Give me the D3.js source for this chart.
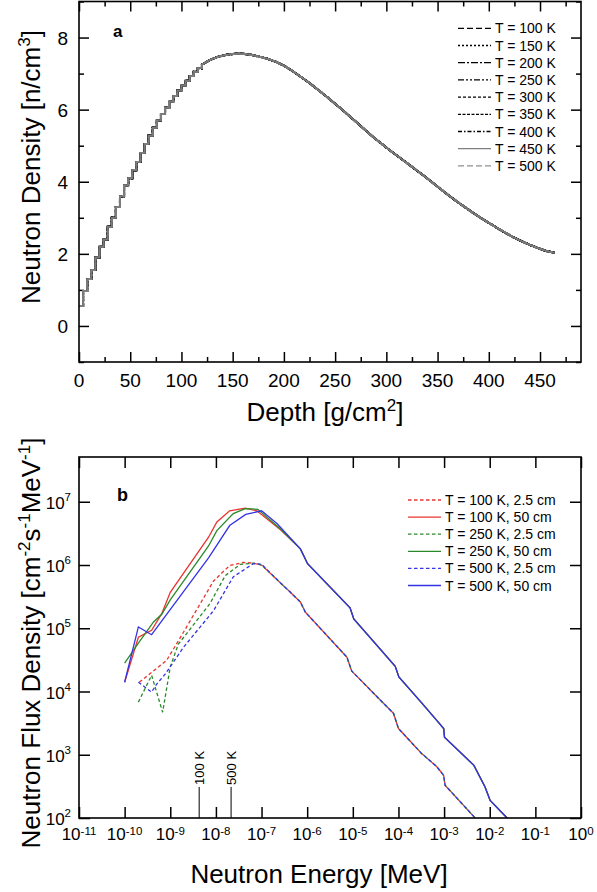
<!DOCTYPE html>
<html><head><meta charset="utf-8">
<script src="https://cdn.jsdelivr.net/npm/d3@7"></script>
<style>
html,body{margin:0;padding:0;background:#fff;}
svg text{font-family:"Liberation Sans",Arial,sans-serif;fill:#000;}
</style></head>
<body><svg id="c" width="597" height="892"></svg>
<script>
// ---------- Panel a data ----------
const depth = [0,4,8,12,16,20,24,28,32,36,40,44,48,52,56,60,64,68,72,76,80,84,88,92,96,100,104,108,112,116,120,128,136,144,152,160,168,176,184,192,200,208,216,224,232,240,248,256,264,272,280,288,296,304,312,320,328,336,344,352,360,368,376,384,392,400,408,416,424,432,440,448,456,464];
const density = [0.55,0.97,1.30,1.55,1.90,2.20,2.40,2.75,3.00,3.30,3.60,3.90,4.10,4.32,4.55,4.80,5.05,5.28,5.50,5.70,5.88,6.05,6.22,6.38,6.53,6.67,6.80,6.93,7.05,7.15,7.25,7.38,7.47,7.52,7.55,7.55,7.52,7.47,7.41,7.33,7.22,7.08,6.92,6.76,6.58,6.40,6.21,6.02,5.82,5.62,5.42,5.22,5.04,4.86,4.69,4.52,4.35,4.18,4.00,3.82,3.64,3.47,3.31,3.15,3.00,2.86,2.72,2.59,2.46,2.35,2.25,2.16,2.08,2.03];
const tempLabels = ["T = 100 K","T = 150 K","T = 200 K","T = 250 K","T = 300 K","T = 350 K","T = 400 K","T = 450 K","T = 500 K"];
const depthTicks = [0,50,100,150,200,250,300,350,400,450];
const densityTicks = [0,2,4,6,8];

// ---------- Panel b data ----------
const eRed50 = [1e-10,2.0e-10,3.9e-10,6.5e-10,1e-9,6.9e-9,1.05e-8,2.0e-8,4.4e-8,7.9e-8,2.6e-7];
const fRed50 = [1.4e4,7.2e4,9.3e4,1.7e5,3.7e5,2.75e6,4.8e6,7.2e6,7.9e6,7.2e6,3.6e6];
const eGreen50 = [1e-10,2.0e-10,4.3e-10,6.5e-10,1e-9,6.9e-9,1.05e-8,2.4e-8,4.4e-8,8.3e-8,2.6e-7];
const fGreen50 = [2.8e4,5.8e4,1.26e5,1.66e5,2.8e5,2.0e6,3.5e6,6.5e6,7.8e6,7.6e6,3.7e6];
const eBlue50 = [1e-10,2.0e-10,3.9e-10,6.9e-9,2.0e-8,4.5e-8,1e-7,2.2e-7];
const fBlue50 = [1.4e4,1.05e5,7.9e4,1.3e6,4.2e6,6.3e6,7.2e6,4.5e6];
const eSolidTail = [7.1e-7,1.02e-6,8.7e-6,1.05e-5,8.5e-5,1.02e-4,3.3e-4,6.9e-4,9.8e-4,1.02e-3,4.5e-3,7.9e-3,1.02e-2,2.4e-2,3.2e-2];
const fSolidTail = [1.8e6,1.05e6,2.1e5,1.4e5,2.5e4,1.7e4,6.5e3,3.5e3,2.6e3,1.9e3,680,310,190,100,71];

const eRed25 = [2.1e-10,8.3e-10,1.6e-9,8.9e-9,2.0e-8,4.0e-8,6.6e-8,1e-7];
const fRed25 = [1.4e4,3.1e4,6.8e4,5.6e5,9.8e5,1.1e6,1.07e6,1.0e6];
const eGreen25 = [2.0e-10,3.9e-10,6.8e-10,1e-9,1.5e-9,7.4e-9,1.6e-8,3.4e-8,6.6e-8,1e-7];
const fGreen25 = [6.8e3,1.8e4,4.7e3,2.45e4,5.6e4,2.45e5,6.8e5,1.02e6,1.07e6,1.0e6];
const eBlue25 = [2.0e-10,3.9e-10,5.0e-10,7.8e-10,1.95e-9,8.9e-9,2.4e-8,6.6e-8,1e-7];
const fBlue25 = [1.4e4,9.8e3,1.3e4,1.9e4,5.0e4,1.9e5,6.5e5,1.05e6,1.03e6];
const eDashTail = [2.6e-7,4.3e-7,7.1e-7,9.1e-7,7.4e-6,9.5e-6,7.8e-5,1e-4,3.2e-4,6.9e-4,9.8e-4,1.05e-3,4.5e-3,6.3e-3];
const fDashTail = [5.2e5,3.7e5,2.6e5,1.8e5,3.5e4,2.1e4,4.5e3,2.6e3,1.05e3,650,470,330,105,79];

const fluxLabels = ["T = 100 K, 2.5 cm","T = 100 K, 50 cm","T = 250 K, 2.5 cm","T = 250 K, 50 cm","T = 500 K, 2.5 cm","T = 500 K, 50 cm"];
const energyExp = [-11,-10,-9,-8,-7,-6,-5,-4,-3,-2,-1,0];
const fluxExp = [2,3,4,5,6,7];
const markerLabels = ["100 K","500 K"];
const markerEnergy = [4.3e-9,2.15e-8];
const markerTop = 310;

// ---------- drawing ----------
const svg = d3.select("#c");
const FONT_TICK_A = 19, FONT_TICK_B = 17, FONT_SUP = 11.5, FONT_TITLE = 26;

// ===== Panel a =====
const xA = d3.scaleLinear().domain([0,490]).range([79,581]);
const yA = d3.scaleLinear().domain([-1,9]).range([362,1.5]);
const gA = svg.append("g");

function ticksLinear(g, x, y) {
  const minorX = d3.range(25,490,50), minorY = d3.range(-1,9.01,2);
  g.append("g").attr("transform",`translate(0,${y.range()[0]})`)
    .call(d3.axisBottom(x).tickValues(depthTicks).tickSizeInner(-10).tickSizeOuter(0).tickFormat(""));
  g.append("g").attr("transform",`translate(0,${y.range()[0]})`)
    .call(d3.axisBottom(x).tickValues(minorX).tickSizeInner(-5).tickSizeOuter(0).tickFormat(""));
  g.append("g").attr("transform",`translate(0,${y.range()[1]})`)
    .call(d3.axisTop(x).tickValues(depthTicks).tickSizeInner(-10).tickSizeOuter(0).tickFormat(""));
  g.append("g").attr("transform",`translate(0,${y.range()[1]})`)
    .call(d3.axisTop(x).tickValues(minorX).tickSizeInner(-5).tickSizeOuter(0).tickFormat(""));
  g.append("g").attr("transform",`translate(${x.range()[0]},0)`)
    .call(d3.axisLeft(y).tickValues(densityTicks).tickSizeInner(-10).tickSizeOuter(0).tickFormat(""));
  g.append("g").attr("transform",`translate(${x.range()[0]},0)`)
    .call(d3.axisLeft(y).tickValues(minorY).tickSizeInner(-5).tickSizeOuter(0).tickFormat(""));
  g.append("g").attr("transform",`translate(${x.range()[1]},0)`)
    .call(d3.axisRight(y).tickValues(densityTicks).tickSizeInner(-10).tickSizeOuter(0).tickFormat(""));
  g.append("g").attr("transform",`translate(${x.range()[1]},0)`)
    .call(d3.axisRight(y).tickValues(minorY).tickSizeInner(-5).tickSizeOuter(0).tickFormat(""));
}
ticksLinear(gA, xA, yA);

// series a: staircase in the rising part, linear afterwards
const pts = depth.map((d,i)=>[d,density[i]]);
const rising = pts.filter(p=>p[0]<=120);
const falling = pts.filter(p=>p[0]>=120);
const stepLine = d3.line().x(p=>xA(p[0])).y(p=>yA(p[1])).curve(d3.curveStepAfter);
const linLine = d3.line().x(p=>xA(p[0])).y(p=>yA(p[1]));
const pathA = stepLine(rising) + linLine(falling).replace(/^M/,"L");
const stylesA = [
  {c:"#000",w:2,da:"6,3"},{c:"#000",w:2,da:"2,2"},{c:"#000",w:2,da:"7,2,2,2"},
  {c:"#000",w:2,da:"6,2,2,2,2,2"},{c:"#000",w:2,da:"3,2"},{c:"#000",w:2,da:"3,1.5"},
  {c:"#000",w:2,da:"4,2,1.5,2"},{c:"#808080",w:1.8,da:null},{c:"#909090",w:1.6,da:"6,3"}
];
tempLabels.forEach((lab,i)=>{
  const s = stylesA[i];
  gA.append("path").attr("d",pathA).attr("fill","none")
    .attr("stroke",s.c).attr("stroke-width",s.w).attr("stroke-dasharray",s.da);
});
gA.append("path").attr("d",pathA).attr("fill","none")
  .attr("stroke","#7a7a7a").attr("stroke-width",1.5);

// frame a
gA.append("rect").attr("x",79).attr("y",1.5).attr("width",502).attr("height",360.5)
  .attr("fill","none").attr("stroke","#000").attr("stroke-width",1.6);
svg.selectAll(".domain").remove();
svg.selectAll(".tick line").attr("stroke","#000").attr("stroke-width",1.5);

// tick labels a
gA.selectAll(".xl").data(depthTicks).enter().append("text")
  .attr("x",d=>xA(d)).attr("y",387).attr("text-anchor","middle")
  .attr("font-size",FONT_TICK_A).text(d=>d);
gA.selectAll(".yl").data(densityTicks).enter().append("text")
  .attr("x",68).attr("y",d=>yA(d)+7).attr("text-anchor","end")
  .attr("font-size",FONT_TICK_A).text(d=>d);

// legend a
tempLabels.forEach((lab,i)=>{
  const s = stylesA[i];
  const cy = 28.3 + i*17.2;
  gA.append("line").attr("x1",458).attr("x2",491).attr("y1",cy).attr("y2",cy)
    .attr("stroke",s.c).attr("stroke-width",1.3).attr("stroke-dasharray",s.da);
  gA.append("text").attr("x",495).attr("y",cy+5).attr("font-size",14).text(lab);
});
gA.append("text").attr("x",113).attr("y",37).attr("font-size",17).attr("font-weight","bold").text("a");

// titles a
const tA = gA.append("text").attr("x",325).attr("y",421).attr("text-anchor","middle").attr("font-size",FONT_TITLE);
tA.append("tspan").text("Depth [g/cm");
tA.append("tspan").attr("font-size",17).attr("dy",-10).text("2");
tA.append("tspan").attr("dy",10).text("]");
const tAy = gA.append("text").attr("transform","translate(40,167) rotate(-90)").attr("text-anchor","middle").attr("font-size",FONT_TITLE);
tAy.append("tspan").text("Neutron Density [n/cm");
tAy.append("tspan").attr("font-size",17).attr("dy",-10).text("3");
tAy.append("tspan").attr("dy",10).text("]");

// ===== Panel b =====
const xB = d3.scaleLog().domain([1e-11,1]).range([79,581]);
const yB = d3.scaleLog().domain([100,5.1e7]).range([818,457]);
const gB = svg.append("g");
const eTicks = energyExp.map(e=>Math.pow(10,e));
const fTicks = fluxExp.map(e=>Math.pow(10,e));
[[d3.axisBottom(xB).tickValues(eTicks),`translate(0,818)`],
 [d3.axisTop(xB).tickValues(eTicks),`translate(0,457)`],
 [d3.axisLeft(yB).tickValues(fTicks),`translate(79,0)`],
 [d3.axisRight(yB).tickValues(fTicks),`translate(581,0)`]].forEach(([ax,tr])=>{
  gB.append("g").attr("transform",tr).call(ax.tickSizeInner(-11).tickSizeOuter(0).tickFormat(""));
});
gB.selectAll(".domain").remove();
gB.selectAll(".tick line").attr("stroke","#000").attr("stroke-width",1.5);

gB.append("clipPath").attr("id","clipB").append("rect").attr("x",79).attr("y",457).attr("width",502).attr("height",361);
const plotB = gB.append("g").attr("clip-path","url(#clipB)");
const lineB = d3.line().x(d=>xB(d[0])).y(d=>yB(d[1]));
const zipS = (e,f)=>e.map((v,i)=>[v,f[i]]);
const red="#e8342f", green="#2a8a2a", blue="#3434e6";
const seriesB = [
  {e:eRed25.concat(eDashTail), f:fRed25.concat(fDashTail), c:red, dash:true},
  {e:eRed50.concat(eSolidTail), f:fRed50.concat(fSolidTail), c:red, dash:false},
  {e:eGreen25.concat(eDashTail), f:fGreen25.concat(fDashTail), c:green, dash:true},
  {e:eGreen50.concat(eSolidTail), f:fGreen50.concat(fSolidTail), c:green, dash:false},
  {e:eBlue25.concat(eDashTail), f:fBlue25.concat(fDashTail), c:blue, dash:true},
  {e:eBlue50.concat(eSolidTail), f:fBlue50.concat(fSolidTail), c:blue, dash:false}
];
seriesB.forEach(s=>{
  plotB.append("path").datum(zipS(s.e,s.f)).attr("d",lineB).attr("fill","none")
    .attr("stroke",s.c).attr("stroke-width",1.3).attr("stroke-dasharray",s.dash?"3.5,2.5":null);
});

// markers
markerEnergy.forEach((e,i)=>{
  gB.append("line").attr("x1",xB(e)).attr("x2",xB(e)).attr("y1",818).attr("y2",yB(markerTop))
    .attr("stroke","#000").attr("stroke-width",1);
  gB.append("text").attr("transform",`translate(${xB(e)+4.5},${yB(markerTop)-2}) rotate(-90)`)
    .attr("font-size",13).text(markerLabels[i]);
});

gB.append("rect").attr("x",79).attr("y",457).attr("width",502).attr("height",361)
  .attr("fill","none").attr("stroke","#000").attr("stroke-width",1.6);

// tick labels b
energyExp.forEach(p=>{
  const t = gB.append("text").attr("x",xB(Math.pow(10,p))).attr("y",840).attr("text-anchor","middle").attr("font-size",FONT_TICK_B);
  t.append("tspan").text("10");
  t.append("tspan").attr("font-size",FONT_SUP).attr("dy",-5).text(p);
});
fluxExp.forEach(p=>{
  const t = gB.append("text").attr("x",71).attr("y",yB(Math.pow(10,p))+7).attr("text-anchor","end").attr("font-size",FONT_TICK_B);
  t.append("tspan").text("10");
  t.append("tspan").attr("font-size",FONT_SUP).attr("dy",-8).text(p);
});

// legend b
fluxLabels.forEach((lab,i)=>{
  const s = seriesB[i];
  const cy = 500 + i*17.1;
  gB.append("line").attr("x1",408).attr("x2",441).attr("y1",cy).attr("y2",cy)
    .attr("stroke",s.c).attr("stroke-width",1.3).attr("stroke-dasharray",s.dash?"3.5,2.5":null);
  gB.append("text").attr("x",445).attr("y",cy+5).attr("font-size",14).text(lab);
});
gB.append("text").attr("x",117).attr("y",501).attr("font-size",18).attr("font-weight","bold").text("b");

// titles b
gB.append("text").attr("x",319).attr("y",883).attr("text-anchor","middle").attr("font-size",FONT_TITLE).text("Neutron Energy [MeV]");
const tBy = gB.append("text").attr("transform","translate(40,643) rotate(-90)").attr("text-anchor","middle").attr("font-size",FONT_TITLE);
tBy.append("tspan").text("Neutron Flux Density [cm");
tBy.append("tspan").attr("font-size",17).attr("dy",-10).text("-2");
tBy.append("tspan").attr("dy",10).text("s");
tBy.append("tspan").attr("font-size",17).attr("dy",-10).text("-1");
tBy.append("tspan").attr("dy",10).text("MeV");
tBy.append("tspan").attr("font-size",17).attr("dy",-10).text("-1");
tBy.append("tspan").attr("dy",10).text("]");
</script></body></html>
